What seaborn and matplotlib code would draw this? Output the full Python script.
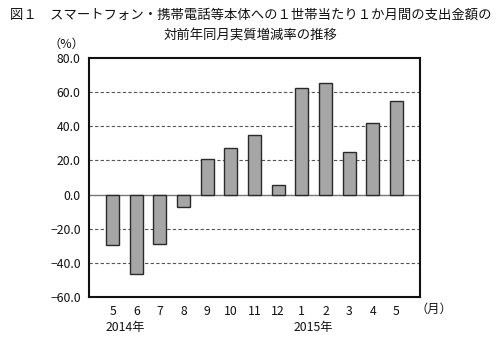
import matplotlib
matplotlib.use("Agg")
import matplotlib.pyplot as plt
import seaborn as sns
import pandas as pd

periods = ["2014-05", "2014-06", "2014-07", "2014-08", "2014-09", "2014-10", "2014-11",
           "2014-12", "2015-01", "2015-02", "2015-03", "2015-04", "2015-05"]
month_labels = ["5", "6", "7", "8", "9", "10", "11", "12", "1", "2", "3", "4", "5"]
values = [-29.4, -46.5, -29.1, -7.5, 20.6, 27.2, 34.7, 5.5, 62.5, 65.1, 24.7, 42.1, 54.7]
yticks = [80.0, 60.0, 40.0, 20.0, 0.0, -20.0, -40.0, -60.0]

sns.set_theme(style="white")
plt.rcParams['font.family'] = ['Noto Sans CJK JP', 'DejaVu Sans']
plt.rcParams['axes.unicode_minus'] = True

df = pd.DataFrame({"period": periods, "value": values})

fig = plt.figure(figsize=(5.0, 3.42), dpi=100)
ax = fig.add_axes([89/500, 1-297/342, 331/500, 239/342])

sns.barplot(data=df, x="period", y="value", order=periods, color="#a6a6a6",
            edgecolor="#2a2a2a", linewidth=1.0, width=0.55, saturation=1, ax=ax)

ax.set_xlim(-1, 13)
ax.set_ylim(-60, 80)
ax.set_yticks(yticks)
ax.set_yticklabels([f"{v:.1f}".replace("-", "\u2212") for v in yticks], fontsize=8.8)
ax.set_xticks(range(len(periods)))
ax.set_xticklabels(month_labels, fontsize=8.8)
ax.tick_params(axis="both", length=0, pad=6, colors="#111111")
ax.set_xlabel("")
ax.set_ylabel("")

for v in [60, 40, 20, -20, -40]:
    ax.axhline(v, color="#555555", linestyle=(0, (3, 2)), linewidth=0.8, zorder=0)
ax.axhline(0, color="#777777", linewidth=1.0, zorder=0)

for s in ax.spines.values():
    s.set_visible(True)
    s.set_color("#111111")
    s.set_linewidth(1.5)

fig.text(0.502, 1-15/342, "図１　スマートフォン・携帯電話等本体への１世帯当たり１か月間の支出金額の",
         ha="center", va="center", fontsize=9.6, color="#111111")
fig.text(0.502, 1-36/342, "対前年同月実質増減率の推移", ha="center", va="center",
         fontsize=9.6, color="#111111")
fig.text(66/500, 1-44/342, "（%）", ha="center", va="center", fontsize=8.8, color="#111111")
fig.text(434/500, 1-309/342, "（月）", ha="center", va="center", fontsize=8.8, color="#111111")
fig.text(106/500, 1-328/342, "2014年", ha="left", va="center", fontsize=8.8, color="#111111")
fig.text(294/500, 1-328/342, "2015年", ha="left", va="center", fontsize=8.8, color="#111111")

fig.savefig("out.png", dpi=100, facecolor="white")
